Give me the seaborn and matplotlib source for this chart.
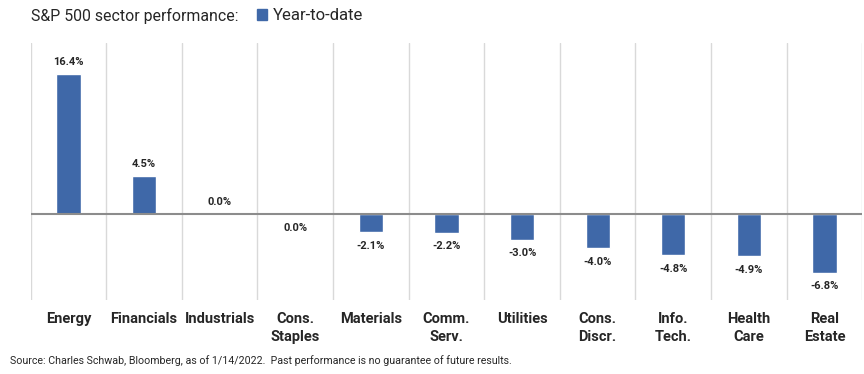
import numpy as np
import pandas as pd
import seaborn as sns
import matplotlib.pyplot as plt
from matplotlib.patches import Patch

sectors = ['Energy', 'Financials', 'Industrials', 'Cons.\nStaples', 'Materials',
           'Comm.\nServ.', 'Utilities', 'Cons.\nDiscr.', 'Info.\nTech.', 'Health\nCare',
           'Real\nEstate']
# Industrials rounds to 0.0 from above, Cons. Staples from below
ytd = [16.4, 4.5, 0.0, -0.0, -2.1, -2.2, -3.0, -4.0, -4.8, -4.9, -6.8]

bar_color = '#3f68a8'
text_color = '#262626'

sns.set_style('white')
plt.rcParams['font.family'] = ['Roboto', 'DejaVu Sans']

df = pd.DataFrame({'sector': sectors, 'ytd': ytd})

fig = plt.figure(figsize=(8.64, 3.74), dpi=100)
ax = fig.add_axes([0.0355, 0.198, 0.9625, 0.688])

sns.barplot(data=df, x='sector', y='ytd', color=bar_color, width=0.32,
            saturation=1, ax=ax)

ax.set_ylim(-10, 20)
ax.set_xlim(-0.5, len(sectors) - 0.5)
ax.axhline(0, color='#8c8c8c', lw=1.5, zorder=3)
for b in np.arange(-0.5, len(sectors), 1.0):
    ax.axvline(b, color='#d9d9d9', lw=1, zorder=0)

for i, v in enumerate(ytd):
    neg = np.signbit(v)
    txt = f'{abs(v):.1f}%' if v == 0 else f'{v:.1f}%'
    ax.annotate(txt, (i, v), xytext=(0, -6 if neg else 5), textcoords='offset points',
                ha='center', va='top' if neg else 'bottom', fontsize=8,
                fontweight='bold', color=text_color)

for s in ax.spines.values():
    s.set_visible(False)
ax.set_yticks([])
ax.set_xlabel('')
ax.set_ylabel('')
ax.tick_params(axis='x', length=0, pad=9)
for lbl in ax.get_xticklabels():
    lbl.set_fontweight('bold')
    lbl.set_fontsize(10.5)
    lbl.set_color(text_color)
    lbl.set_linespacing(1.3)

fig.text(0.0355, 0.958, 'S&P 500 sector performance:', fontsize=11.4, color=text_color,
         va='center', ha='left')
fig.legend(handles=[Patch(color=bar_color, label='Year-to-date')], loc='center left',
           bbox_to_anchor=(0.297, 0.958), frameon=False, fontsize=12,
           handlelength=0.65, handleheight=0.65, handletextpad=0.3, borderpad=0,
           borderaxespad=0, labelcolor=text_color)
fig.text(0.011, 0.035, 'Source: Charles Schwab, Bloomberg, as of 1/14/2022.  Past performance is no guarantee of future results.',
         fontsize=7.7, color=text_color, va='center', ha='left')

fig.savefig('out.png', dpi=100)
